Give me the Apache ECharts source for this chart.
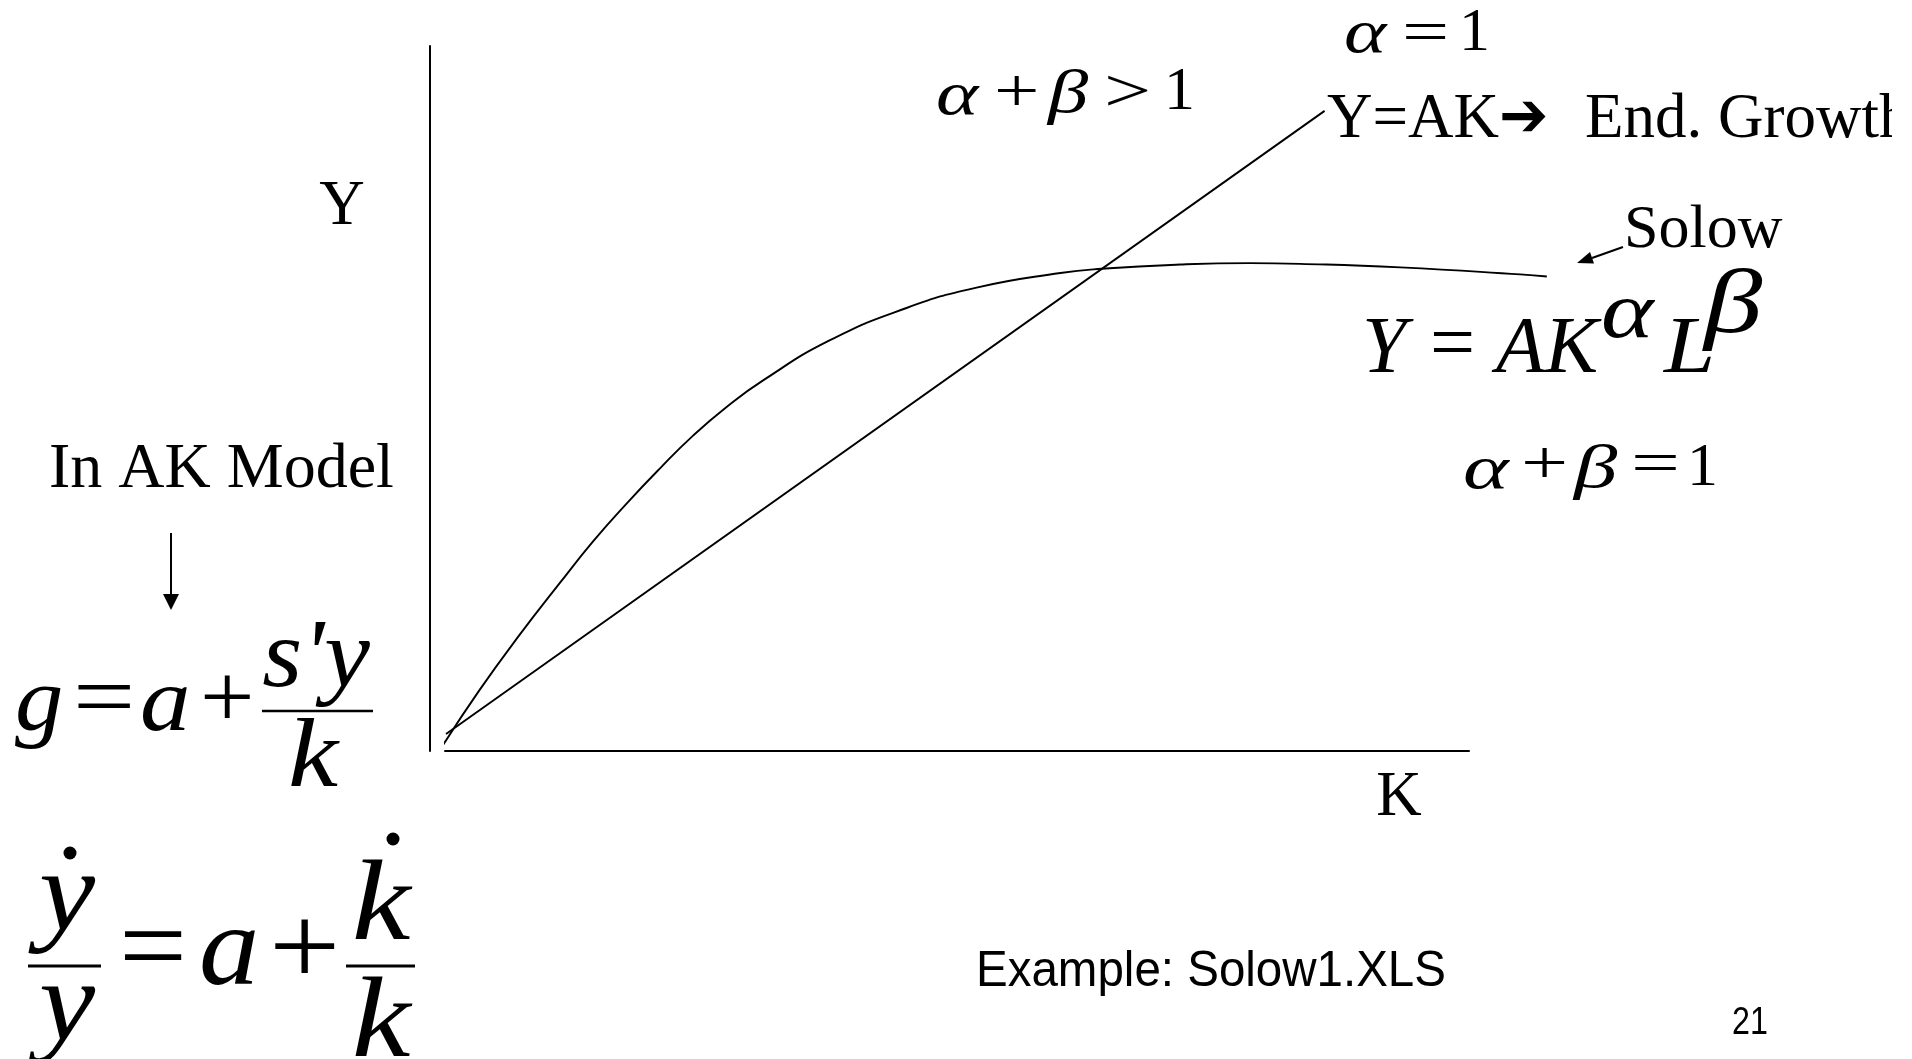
<!DOCTYPE html>
<html>
<head>
<meta charset="utf-8">
<title>AK model vs Solow</title>
<script src="https://cdn.jsdelivr.net/npm/echarts@6/dist/echarts.min.js"></script>
<style>
  html, body { margin: 0; padding: 0; background: #fff; }
  #chart { width: 1912px; height: 1059px; }
</style>
</head>
<body>
<div id="chart"></div>
<script>
// Solow curve Y = A K^a L^b (K on x, Y on y, both 0..100)
var solowK = [-0.3, 3.4, 7.3, 11.2, 14.5, 17.8, 21.0, 24.2, 27.5, 31.1, 37.5, 45.0, 51.8, 60.1, 64.1, 71.8, 78.6, 83.5, 93.3, 105.0, 107.6];
var solowY = [0.6, 8.7, 16.5, 23.8, 29.8, 35.2, 40.1, 44.7, 48.8, 52.6, 58.2, 62.8, 65.7, 67.8, 68.4, 69.0, 69.2, 69.1, 68.6, 67.6, 67.3];
// AK line, Y = AK
var akK = [0.1, 85.9];
var akY = [2.4, 90.8];

var SERIF = '"Liberation Serif", "Times New Roman", serif';
var SANS = '"Liberation Sans", Arial, sans-serif';

function pairs(xs, ys) {
  return xs.map(function (x, i) { return [x, ys[i]]; });
}

// text helper, y is the visual middle of the glyphs
function txt(x, y, s, size, o) {
  o = o || {};
  var al = o.al || 'left';
  return {
    type: 'text', x: x, y: y, scaleX: o.sx || 1, z: 10,
    style: {
      text: s,
      font: (o.b ? 'bold ' : '') + (o.it ? 'italic ' : '') + size + 'px ' + (o.ff || SERIF),
      fill: '#000',
      align: al, verticalAlign: 'middle',
      textAlign: al, textVerticalAlign: 'middle'
    }
  };
}
function seg(x1, y1, x2, y2, w) {
  return { type: 'line', z: 10, shape: { x1: x1, y1: y1, x2: x2, y2: y2 }, style: { stroke: '#000', lineWidth: w || 2 } };
}
function tri(pts) {
  return { type: 'polygon', z: 10, shape: { points: pts }, style: { fill: '#000' } };
}
function dot(cx, cy, r) {
  return { type: 'circle', z: 10, shape: { cx: cx, cy: cy, r: r }, style: { fill: '#000' } };
}

var hidden = {
  axisLine: { show: false }, axisTick: { show: false },
  axisLabel: { show: false }, splitLine: { show: false }
};
var shown = {
  axisLine: { show: true, onZero: false, lineStyle: { color: '#000', width: 2 } },
  axisTick: { show: false }, axisLabel: { show: false }, splitLine: { show: false }
};

var chart = echarts.init(document.getElementById('chart'));
chart.setOption({
  animation: false,
  backgroundColor: '#fff',
  grid: [
    // drawn axes, K 0..100
    { left: 445, right: 443, top: 46, bottom: 308 },
    // same scale, wider so the Solow curve can run past the K axis
    { left: 445, right: 238.2, top: 46, bottom: 308 }
  ],
  xAxis: [
    Object.assign({ type: 'value', gridIndex: 0, min: 0, max: 100 }, shown),
    Object.assign({ type: 'value', gridIndex: 1, min: 0, max: 120 }, hidden)
  ],
  yAxis: [
    Object.assign({ type: 'value', gridIndex: 0, min: 0, max: 100, offset: 15 }, shown),
    Object.assign({ type: 'value', gridIndex: 1, min: 0, max: 100 }, hidden)
  ],
  series: [
    {
      name: 'Solow', type: 'line', xAxisIndex: 1, yAxisIndex: 1,
      data: pairs(solowK, solowY),
      smooth: 0.5, showSymbol: false, clip: false,
      lineStyle: { color: '#000', width: 1.9 }
    },
    {
      name: 'AK', type: 'line', xAxisIndex: 1, yAxisIndex: 1,
      data: pairs(akK, akY),
      showSymbol: false, clip: false,
      lineStyle: { color: '#000', width: 1.9 }
    }
  ],
  graphic: [
    // axis names
    txt(342, 207, 'Y', 63, { al: 'center' }),
    txt(1399, 798, 'K', 63, { al: 'center' }),

    // alpha = 1
    txt(1344, 36, 'α', 62, { it: true, sx: 1.3 }),
    txt(1402, 36, '=', 62, { sx: 1.35 }),
    txt(1459, 34, '1', 62),

    // alpha + beta > 1
    txt(936, 98, 'α', 62, { it: true, sx: 1.3 }),
    txt(994, 95, '+', 62, { sx: 1.3 }),
    txt(1048, 96, 'β', 62, { it: true, sx: 1.3 }),
    txt(1104, 95, '>', 62, { sx: 1.35 }),
    txt(1164, 93, '1', 62),

    // Y=AK -> End. Growth
    txt(1327, 120, 'Y=AK', 63),
    txt(1499, 120, '➔', 62, { b: true, ff: '"DejaVu Sans", sans-serif', sx: 0.95 }),
    txt(1585, 120, 'End. Growth', 63),
    { type: 'rect', z: 11, shape: { x: 1892, y: 60, width: 20, height: 110 }, style: { fill: '#fff' } },

    // Solow label and arrow
    txt(1624, 231, 'Solow', 62),
    seg(1623, 247, 1592, 258, 2),
    tri([[1577, 263], [1594, 263.4], [1590, 252]]),

    // Y = A K^alpha L^beta
    txt(1362, 351, 'Y', 80, { it: true }),
    txt(1430, 348, '=', 80),
    txt(1496, 351, 'AK', 80, { it: true }),
    txt(1601, 316, 'α', 80, { it: true, sx: 1.25 }),
    txt(1664, 351, 'L', 80, { it: true, sx: 1.15 }),
    txt(1704, 308, 'β', 90, { it: true, sx: 1.3 }),

    // alpha + beta = 1
    txt(1463, 472, 'α', 62, { it: true, sx: 1.4 }),
    txt(1521, 467, '+', 62, { sx: 1.35 }),
    txt(1574, 471, 'β', 62, { it: true, sx: 1.4 }),
    txt(1631, 467, '=', 62, { sx: 1.4 }),
    txt(1687, 469, '1', 62),

    // In AK Model
    txt(49, 470, 'In AK Model', 64),
    seg(171, 533, 171, 597, 2),
    tri([[163, 594], [179, 594], [171, 610]]),

    // g = a + s'y / k
    txt(15, 706, 'g', 92, { it: true, sx: 1.05 }),
    txt(73, 703, '=', 92, { sx: 1.2 }),
    txt(140, 706, 'a', 92, { it: true, sx: 1.1 }),
    txt(200, 703, '+', 92, { sx: 1.05 }),
    txt(316, 660, "s'y", 98, { it: true, al: 'center', sx: 1.05 }),
    seg(262, 711, 373, 711, 2.5),
    txt(313, 760, 'k', 98, { it: true, al: 'center', sx: 1.15 }),

    // y dot / y = a + k dot / k
    txt(67, 900, 'y', 115, { it: true, al: 'center', sx: 1.1 }),
    dot(70, 853, 6.5),
    seg(28, 966, 101, 966, 3),
    txt(67, 1010, 'y', 115, { it: true, al: 'center', sx: 1.1 }),
    txt(119, 954, '=', 115, { sx: 1.05 }),
    txt(199, 954, 'a', 115, { it: true, sx: 1.05 }),
    txt(269, 954, '+', 115, { sx: 1.1 }),
    txt(381, 909, 'k', 115, { it: true, al: 'center', sx: 1.15 }),
    dot(393, 839, 6.5),
    seg(346, 966, 415, 966, 3),
    txt(381, 1026, 'k', 115, { it: true, al: 'center', sx: 1.15 }),

    // footer
    txt(976, 972, 'Example: Solow1.XLS', 50, { ff: SANS, sx: 0.95 }),
    txt(1732, 1024, '21', 38, { ff: SANS, sx: 0.85 })
  ]
});
</script>
</body>
</html>
